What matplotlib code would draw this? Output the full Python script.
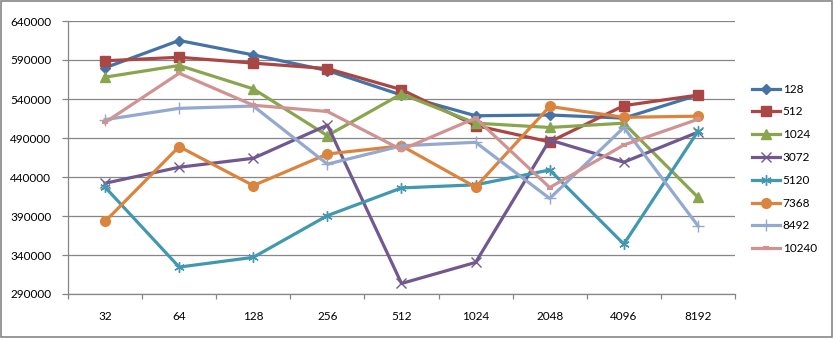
import matplotlib
matplotlib.use('Agg')
import matplotlib.pyplot as plt
from matplotlib.patches import Rectangle

plt.rcParams['font.family'] = ['Lato', 'DejaVu Sans']

sizes = ['32', '64', '128', '256', '512', '1024', '2048', '4096', '8192']

s128 = [580000, 615000, 596500, 576500, 545000, 518500, 519500, 515500, 545000]
s512 = [589000, 593500, 586000, 579000, 552000, 506000, 485000, 531500, 545000]
s1024 = [568000, 583000, 553000, 493000, 546500, 509000, 503500, 509000, 414000]
s3072 = [432000, 452500, 464000, 506500, 303500, 330500, 487500, 459000, 497500]
s5120 = [427000, 324500, 337000, 390500, 426000, 430000, 449000, 354000, 498500]
s7368 = [383000, 479000, 429000, 469500, 480000, 427000, 530500, 516500, 518000]
s8492 = [513500, 528000, 531000, 456500, 480000, 484500, 412500, 503500, 377500]
s10240 = [510000, 573000, 532000, 524000, 475000, 515500, 426500, 481000, 514000]

names = ['128', '512', '1024', '3072', '5120', '7368', '8492', '10240']
series = [s128, s512, s1024, s3072, s5120, s7368, s8492, s10240]
colors = ['#4572A7', '#AA4643', '#89A54E', '#71588F', '#4198AF', '#DB843D', '#93A9CF', '#D19392']
markers = ['D', 's', '^', 'x', (6, 2, 0), 'o', '+', '_']
msizes = [5.5, 7, 7, 6.5, 7.5, 7, 8.5, 5]
mews = [1, 1, 1, 1, 1, 1, 1, 3]

fig = plt.figure(figsize=(8.36, 3.4), dpi=100)
ax = fig.add_axes([68 / 836, 46 / 340, 667 / 836, 273 / 340])

x = list(range(len(sizes)))
for vals, name, c, m, ms, mew in zip(series, names, colors, markers, msizes, mews):
    ax.plot(x, vals, color=c, lw=2.3, marker=m, ms=ms, mec=c, mfc=c, mew=mew, label=name)

ax.set_ylim(290000, 640000)
ax.set_yticks(range(290000, 640001, 50000))
ax.set_xlim(-0.5, len(sizes) - 0.5)
ax.set_xticks([i - 0.5 for i in range(len(sizes) + 1)])
ax.set_xticklabels([])
ax.set_xticks(x, minor=True)
ax.set_xticklabels(sizes, minor=True)

grey = '#868686'
ax.grid(axis='y', color=grey, lw=0.9)
ax.set_axisbelow(True)
for side in ['top', 'right']:
    ax.spines[side].set_visible(False)
for side in ['left', 'bottom']:
    ax.spines[side].set_color(grey)
    ax.spines[side].set_linewidth(0.9)

ax.tick_params(axis='y', length=4, width=0.9, color=grey, pad=8, labelsize=8.5)
ax.tick_params(axis='x', which='major', length=3.5, width=0.9, color=grey)
ax.tick_params(axis='x', which='minor', length=0, pad=12, labelsize=8.5)

fig.legend(loc='center left', bbox_to_anchor=(752 / 836, 0.503), bbox_transform=fig.transFigure,
           frameon=False, fontsize=8.5, handlelength=2.4, handletextpad=0.2,
           labelspacing=1.0, borderpad=0, borderaxespad=0)

# grey frame round the whole chart
fig.patches.append(Rectangle((0.5 / 836, 3 / 340), 831.5 / 836, 336.5 / 340, transform=fig.transFigure,
                             fill=False, edgecolor=grey, lw=1.2))

fig.savefig('out.png', dpi=100)
